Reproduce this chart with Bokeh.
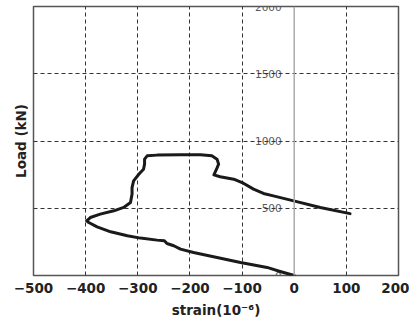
from bokeh.plotting import figure
from bokeh.models import FixedTicker, Span, Label
from bokeh.embed import file_html
from bokeh.resources import INLINE

# data
strain = [0, -27, -52, -103, -148, -193, -218, -231, -244, -249, -263, -295, -320, -352, -378, -394, -398,
          -391, -372, -346, -327, -314, -311, -311, -308, -298, -289, -287, -287, -282, -263, -218, -180,
          -158, -148, -145, -149, -154, -142, -116, -100, -78, -59, -40, -1, 50, 107]
load = [0, 30, 60, 97, 134, 171, 196, 221, 238, 258, 263, 278, 295, 325, 362, 394, 406,
        431, 456, 481, 506, 543, 605, 654, 704, 753, 790, 828, 865, 890, 895, 897, 897,
        890, 865, 828, 790, 748, 734, 716, 691, 642, 610, 592, 555, 506, 460]
x_ticks = [-500, -400, -300, -200, -100, 0, 100, 200]
x_grid = [-400, -300, -200, -100, 100]
y_ticks = [0, 500, 1000, 1500, 2000]
y_labels = ["0", "500", "1000", "1500", "2000"]
y_grid = [500, 1000, 1500]

FONT = "DejaVu Sans"

p = figure(width=409, height=320, x_range=(-500, 200), y_range=(0, 2000),
           output_backend="svg", toolbar_location=None,
           min_border_left=33, min_border_right=11, min_border_top=6, min_border_bottom=0)

p.outline_line_color = "#555555"
p.outline_line_width = 1.5
p.background_fill_color = "white"
p.border_fill_color = "white"

p.xaxis.ticker = FixedTicker(ticks=x_ticks)
p.yaxis.ticker = FixedTicker(ticks=[])
p.xgrid.ticker = FixedTicker(ticks=x_grid)
p.ygrid.ticker = FixedTicker(ticks=y_grid)
for g in (p.xgrid, p.ygrid):
    g.grid_line_color = "#333333"
    g.grid_line_dash = "4 3"
    g.grid_line_width = 1

for ax in (p.xaxis, p.yaxis):
    ax.axis_line_color = None
    ax.major_tick_line_color = None
    ax.minor_tick_line_color = None
    ax.major_tick_out = 0
    ax.minor_tick_out = 0
    ax.axis_label_text_font = FONT
    ax.axis_label_text_font_style = "bold"
    ax.axis_label_text_color = "#222222"
    ax.axis_label_text_font_size = "13.5px"

p.xaxis.major_label_text_font = FONT
p.xaxis.major_label_text_font_style = "bold"
p.xaxis.major_label_text_font_size = "13.5px"
p.xaxis.major_label_text_color = "#222222"
p.xaxis.major_label_standoff = 7
p.xaxis.axis_label = "strain(10\u207b\u2076)"
p.xaxis.axis_label_standoff = 6

p.yaxis.major_label_standoff = 0
p.yaxis.axis_label = "Load (kN)"
p.yaxis.axis_label_standoff = 5

# zero line
p.add_layout(Span(location=0, dimension="height", line_color="#aaaaaa", line_width=1.5))

# y tick labels at x = 0 (drawn under the grid)
for yv, txt in zip(y_ticks, y_labels):
    lab = Label(x=-24, y=yv, text=txt, text_align="right", text_baseline="middle",
                text_font=FONT, text_font_size="10.5px", text_color="#5a5a5a", level="image")
    p.add_layout(lab)

p.line(strain, load, line_color="#1a1a1a", line_width=3, line_join="round", line_cap="round")

open("out.html", "w").write(file_html(p, INLINE))
